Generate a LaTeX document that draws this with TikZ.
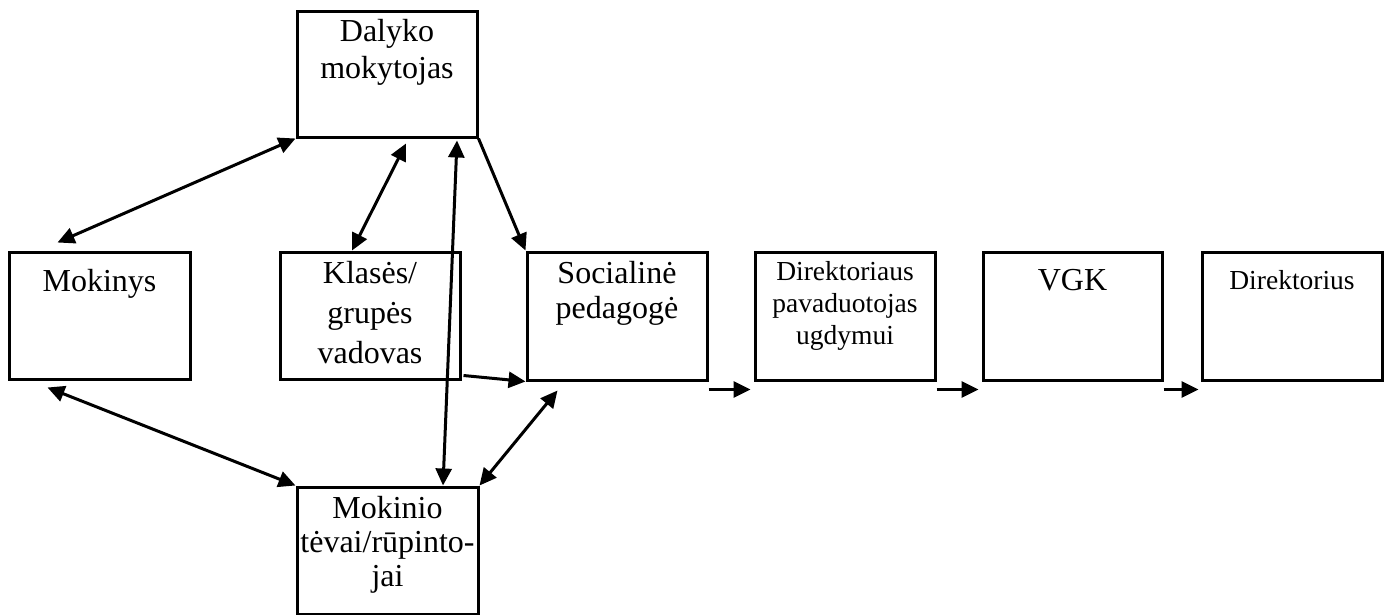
\documentclass[tikz,border=0pt]{standalone}
\usepackage{fontspec}
\setmainfont{Liberation Serif}
\usetikzlibrary{arrows.meta,calc}
\begin{document}
\begin{tikzpicture}[x=0.5pt,y=-0.5pt,
  box/.style={draw,line width=1.5pt,rectangle,inner sep=0pt},
  txt/.style={anchor=base,align=center,inner sep=0pt},
  conn/.style={line width=1.5pt,-{Triangle[length=8.5pt,width=8pt]}},
  biconn/.style={line width=1.5pt,{Triangle[length=8.5pt,width=8pt]}-{Triangle[length=8.5pt,width=8pt]}},
  big/.style={font=\fontsize{16}{18.5}\selectfont},
  small/.style={font=\fontsize{13.75}{16}\selectfont}]
\useasboundingbox (0,0) rectangle (1391,615);
% boxes
\node[box,minimum width=90pt,minimum height=62.5pt] (dal) at (387,74.5) {};
\node[box,minimum width=90.5pt,minimum height=63.5pt] (mok) at (99.5,315.5) {};
\node[box,minimum width=90pt,minimum height=63.5pt] (kla) at (370,315.5) {};
\node[box,minimum width=90pt,minimum height=64pt] (soc) at (617,316) {};
\node[box,minimum width=90pt,minimum height=64pt] (dir) at (845,316) {};
\node[box,minimum width=89.5pt,minimum height=64pt] (vgk) at (1072.5,316) {};
\node[box,minimum width=90pt,minimum height=64pt] (drs) at (1292,316) {};
\node[box,minimum width=90.5pt,minimum height=63.5pt] (tev) at (387.5,550.5) {};
% texts (base anchor = baseline of the last line)
\node[txt,big] (tdal) at ($(dal.north)+(0,68)$) {Dalyko\\mokytojas};
\node[txt,big] (tmok) at ($(mok.north)+(0,41)$) {Mokinys};
\node[txt,font=\fontsize{16}{20}\selectfont] (tkla) at ($(kla.north)+(0,113)$) {Klasės/\\grupės\\vadovas};
\node[txt,font=\fontsize{16}{17.5}\selectfont] (tsoc) at ($(soc.north)+(0,68)$) {Socialinė\\pedagogė};
\node[txt,small] (tdir) at ($(dir.north)+(0,94)$) {Direktoriaus\\pavaduotojas\\ugdymui};
\node[txt,big] (tvgk) at ($(vgk.north)+(0,40)$) {VGK};
\node[txt,small] (tdrs) at ($(drs.north)+(0,39)$) {Direktorius};
\node[txt,font=\fontsize{16}{17}\selectfont] (ttev) at ($(tev.north)+(0,101)$) {Mokinio\\tėvai/rūpinto-\\jai};
% connectors
\draw[biconn] ($(mok.north west)+(50,-8)$) -- (dal.south west);
\draw[biconn] ($(kla.north)+(-18,0)$) -- ($(dal.south)+(19,5)$);
\draw[biconn] ($(tev.north)+(55.5,0)$) -- ($(dal.south)+(70,2)$);
\draw[conn] (dal.south east) -- (soc.north west);
\draw[conn] ($(kla.south east)+(2,-5)$) -- (soc.south west);
\draw[biconn] ($(mok.south west)+(40,7)$) -- (tev.north west);
\draw[biconn] (tev.north east) -- ($(soc.south west)+(32,9)$);
\draw[conn] ($(soc.south east)+(0,8)$) -- ($(dir.south west)+(-3,8)$);
\draw[conn] ($(dir.south east)+(0,8)$) -- ($(vgk.south west)+(-3,8)$);
\draw[conn] ($(vgk.south east)+(0,8)$) -- ($(drs.south west)+(-2,8)$);
\end{tikzpicture}
\end{document}
